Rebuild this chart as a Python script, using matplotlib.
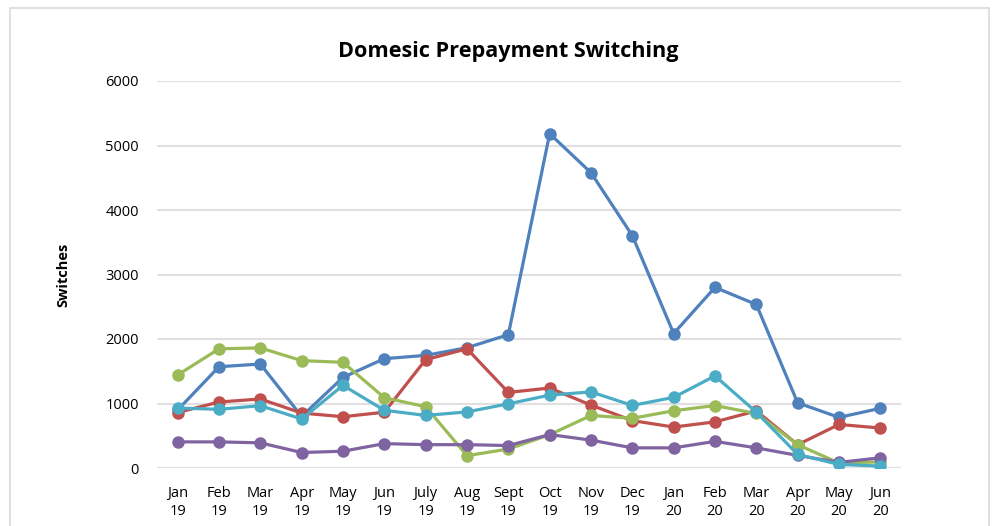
import numpy as np
import matplotlib as mpl
from matplotlib import pyplot as plt
from matplotlib.patches import Rectangle

mpl.rc('font', family=['Open Sans', 'DejaVu Sans'])

### data ###
months = ['Jan\n19', 'Feb\n19', 'Mar\n19', 'Apr\n19', 'May\n19', 'Jun\n19',
          'July\n19', 'Aug\n19', 'Sept\n19', 'Oct\n19', 'Nov\n19', 'Dec\n19',
          'Jan\n20', 'Feb\n20', 'Mar\n20', 'Apr\n20', 'May\n20', 'Jun\n20']

blue = [900, 1570, 1612, 800, 1405, 1695, 1746, 1865, 2067, 5183, 4578, 3602,
        2085, 2800, 2535, 1010, 785, 925]
red = [860, 1023, 1070, 852, 795, 865, 1680, 1848, 1172, 1240, 975, 735,
       635, 715, 885, 361, 675, 620]
green = [1442, 1848, 1862, 1665, 1638, 1090, 950, 191, 294, 516, 815, 770,
         888, 968, 845, 361, 77, 95]
purple = [405, 405, 390, 240, 260, 378, 362, 362, 348, 518, 432, 312,
          312, 413, 312, 195, 87, 158]
cyan = [930, 910, 966, 760, 1281, 895, 815, 870, 995, 1130, 1180, 970,
        1095, 1428, 865, 210, 55, 30]

series = [(blue, '#4F81BD'), (red, '#C0504D'), (green, '#9BBB59'),
          (purple, '#8064A2'), (cyan, '#4BACC6')]

fig = plt.figure(figsize=(9.94, 5.26), dpi=100)
fig.patches.append(Rectangle((10 / 994, -0.01), 979 / 994, 1 - 8 / 526 + 0.01,
                             transform=fig.transFigure, fill=False,
                             edgecolor='#D9D9D9', linewidth=1.2))
ax = fig.add_axes([157 / 994, 1 - 468 / 526, 744 / 994, 387 / 526])

x = np.arange(len(months))
for vals, col in series:
    ax.plot(x, vals, color=col, linewidth=2.3, marker='o', markersize=8,
            solid_capstyle='round')

ax.set_xlim(-0.5, len(months) - 0.5)
ax.set_ylim(0, 6000)
ax.set_yticks(np.arange(0, 6001, 1000))
ax.set_xticks(x)
ax.set_xticklabels(months, fontsize=10.5, linespacing=1.3)
ax.tick_params(axis='y', labelsize=10.5, length=0, pad=13)
ax.tick_params(axis='x', length=0, pad=13)
ax.grid(axis='y', color='#E0E0E0', linewidth=1.5)
ax.set_axisbelow(True)
for s in ax.spines.values():
    s.set_visible(False)

ax.set_ylabel('Switches', fontsize=10.5, fontweight='bold', labelpad=25)
fig.text(508 / 994, 1 - 52 / 526, 'Domesic Prepayment Switching',
         fontsize=15.6, fontweight='bold', ha='center', va='center')

plt.savefig('out.png', dpi=100)
